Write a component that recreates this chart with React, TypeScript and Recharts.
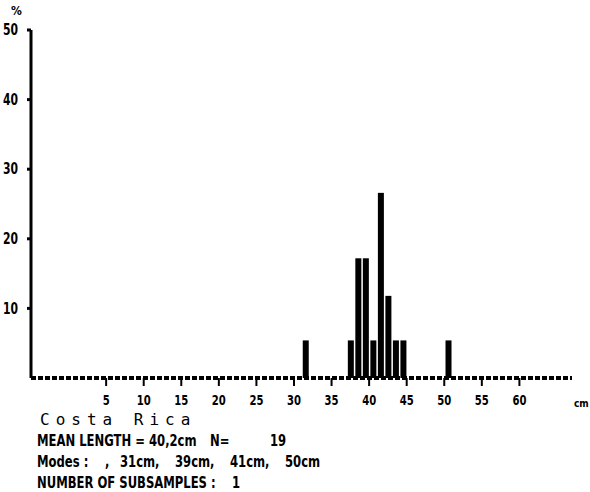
import React from "react";
import { BarChart, Bar, XAxis, YAxis } from "recharts";

// length classes (cm) and share of catch (%)
const lengths = [31, 37, 38, 39, 40, 41, 42, 43, 44, 50];
const percents = [5.4, 5.4, 17.2, 17.2, 5.4, 26.6, 11.8, 5.4, 5.4, 5.4];
const xTicks = [5, 10, 15, 20, 25, 30, 35, 40, 45, 50, 55, 60];
const yTicks = [10, 20, 30, 40, 50];
const modes = ["31cm,", "39cm,", "41cm,", "50cm"];

const data = lengths.map((l, i) => ({ len: l, pct: percents[i] }));

const font = "'DejaVu Sans Condensed', 'DejaVu Sans', sans-serif";

// narrow, tall printer digits
const XTick = (p: any) => (
  <g transform={`translate(${p.x},${p.y + 2}) scale(0.8,1)`}>
    <text textAnchor="middle" dy="0.75em" fontFamily={font} fontWeight={700} fontSize={14} fill="#000">
      {p.payload.value}
    </text>
  </g>
);
const YTick = (p: any) => (
  <g transform={`translate(${p.x - 4},${p.y}) scale(0.8,1)`}>
    <text textAnchor="end" dy="0.35em" fontFamily={font} fontWeight={700} fontSize={15} fill="#000">
      {p.payload.value}
    </text>
  </g>
);

// bars sit just right of their class value on the old plot
const BarShape = (p: any) => (
  <rect x={p.x + p.width / 2 + 1} y={p.y} width={p.width} height={p.height} fill="#000" />
);

const txt = (left: number, top: number, s: string, extra: React.CSSProperties = {}) => (
  <div
    style={{
      position: "absolute",
      left,
      top,
      fontFamily: font,
      fontWeight: 700,
      fontSize: 15,
      lineHeight: 1,
      whiteSpace: "pre",
      color: "#000",
      transform: "scaleX(0.86)",
      transformOrigin: "left top",
      ...extra,
    }}
  >
    {s}
  </div>
);

export default function App() {
  return (
    <div style={{ position: "absolute", left: 0, top: 0, width: 590, height: 492, background: "#fff" }}>
      <BarChart
        width={590}
        height={420}
        data={data}
        margin={{ top: 30, right: 18, bottom: 12, left: 0 }}
        barSize={6}
      >
        <XAxis
          dataKey="len"
          type="number"
          domain={[-5, 66.5]}
          ticks={xTicks}
          allowDecimals={false}
          height={30}
          axisLine={{ stroke: "#000", strokeWidth: 4, strokeDasharray: "5 2" }}
          tickLine={{ stroke: "#000", strokeWidth: 2 }}
          tickSize={8}
          tickMargin={6}
          tick={<XTick />}
          interval={0}
        />
        <YAxis
          type="number"
          domain={[0, 50]}
          ticks={yTicks}
          width={31}
          axisLine={{ stroke: "#000", strokeWidth: 3 }}
          tickLine={{ stroke: "#000", strokeWidth: 3 }}
          tickSize={4}
          tickMargin={5}
          tick={<YTick />}
          interval={0}
        />
        <Bar dataKey="pct" fill="#000" shape={BarShape} isAnimationActive={false} />
      </BarChart>
      {txt(11, 5, "%", { fontSize: 12, transform: "none" })}
      {txt(574, 399, "cm", { fontSize: 10, transform: "none" })}
      {txt(40, 412, "Costa Rica", {
        fontFamily: "'DejaVu Sans Mono', monospace",
        fontWeight: 400,
        fontSize: 16,
        letterSpacing: 6,
        transform: "none",
      })}
      {txt(37, 434, "MEAN LENGTH = 40,2cm")}
      {txt(210, 434, "N=")}
      {txt(270, 434, "19")}
      {txt(37, 455, "Modes :")}
      {txt(105, 455, ",")}
      {modes.map((m, i) => txt(120 + i * 55, 455, m))}
      {txt(37, 476, "NUMBER OF SUBSAMPLES :")}
      {txt(232, 476, "1")}
    </div>
  );
}
